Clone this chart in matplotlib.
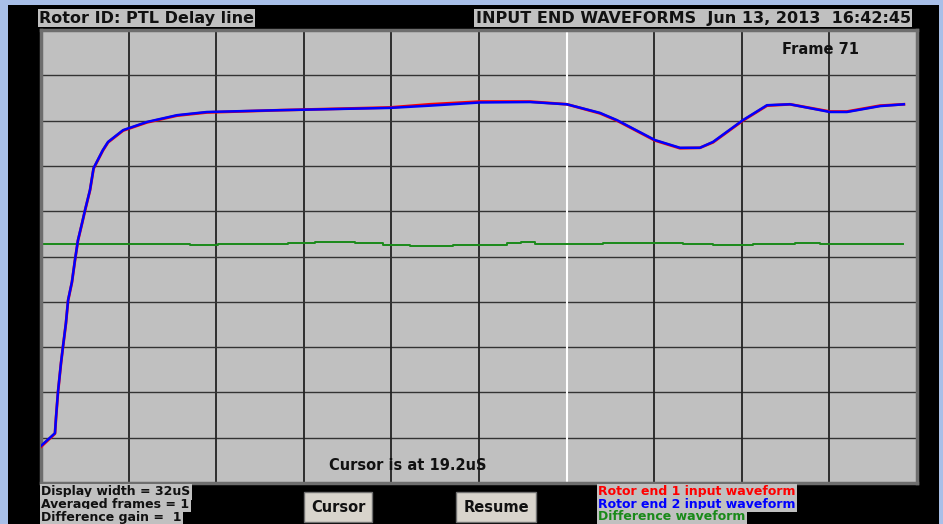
import matplotlib.pyplot as plt

# time in uS (display width 32uS), values in screen divisions (0..10)
t_wave = [0.0, 0.51, 0.55, 0.62, 0.73, 0.80, 0.91, 0.99, 1.13, 1.24, 1.35, 1.50,
          1.61, 1.79, 1.92, 2.26, 2.45, 3.00, 3.87, 4.97, 6.06, 8.73, 12.75,
          14.21, 16.04, 17.86, 19.21, 20.42, 21.04, 22.43, 23.34, 24.07, 24.55,
          25.64, 26.52, 27.36, 28.82, 29.44, 30.65, 31.52]
v_end2 = [0.82, 1.10, 1.46, 2.01, 2.65, 3.00, 3.53, 4.04, 4.44, 4.92, 5.36, 5.74,
          6.03, 6.47, 6.95, 7.35, 7.53, 7.79, 7.97, 8.12, 8.19, 8.23, 8.28,
          8.33, 8.40, 8.41, 8.36, 8.17, 8.01, 7.57, 7.40, 7.40, 7.53,
          8.01, 8.34, 8.36, 8.19, 8.19, 8.32, 8.36]
v_end1 = [0.80, 1.09, 1.45, 2.00, 2.64, 2.99, 3.52, 4.03, 4.43, 4.91, 5.35, 5.73,
          6.02, 6.46, 6.94, 7.34, 7.52, 7.78, 7.96, 8.11, 8.18, 8.23, 8.29,
          8.36, 8.42, 8.42, 8.36, 8.16, 8.00, 7.56, 7.39, 7.40, 7.52,
          8.00, 8.33, 8.36, 8.20, 8.20, 8.33, 8.36]

t_diff = [0.0, 5.44, 6.47, 9.02, 10.01, 11.47, 12.49, 13.48, 15.05, 17.02, 17.53,
          18.05, 20.53, 23.45, 24.55, 26.01, 27.54, 28.45, 31.49]
v_diff = [5.28, 5.25, 5.28, 5.30, 5.32, 5.30, 5.26, 5.24, 5.25, 5.29, 5.31,
          5.28, 5.30, 5.28, 5.25, 5.28, 5.30, 5.28, 5.28]

info_lines = ["Display width = 32uS", "Averaged frames = 1", "Difference gain =  1"]
legend_lines = ["Rotor end 1 input waveform", "Rotor end 2 input waveform",
                "Difference waveform"]
legend_colors = ['#ff0000', '#0000ff', '#1a8a1a']

cursor_us = 19.2
display_width = 32

W, H = 943, 524
fig = plt.figure(figsize=(W / 100, H / 100), dpi=100)
fig.patch.set_facecolor('#a8bfe8')


def fx(px):
    return px / W


def fy(py):
    return 1 - py / H


# black instrument panel behind everything
panel = fig.add_axes([fx(8), 0, fx(931), 519 / H])
panel.set_facecolor('black')
panel.set_xticks([])
panel.set_yticks([])
for s in panel.spines.values():
    s.set_visible(False)

ax = fig.add_axes([fx(41), fy(483), fx(876), 453 / H])
ax.set_facecolor('#c0c0c0')
ax.set_xlim(0, display_width)
ax.set_ylim(0, 10)

# graticule
for i in range(1, 10):
    x = i * display_width / 10
    if abs(x - cursor_us) > 0.01:
        ax.axvline(x, color='#222222', linewidth=1.3, zorder=1)
    ax.axhline(i, color='#333333', linewidth=1.0, zorder=1)
ax.axvline(cursor_us, color='white', linewidth=1.5, zorder=1)

ax.step(t_diff, v_diff, where='post', color=legend_colors[2], linewidth=1.4, zorder=2)
ax.plot(t_wave, v_end1, color=legend_colors[0], linewidth=2.0, zorder=3)
ax.plot(t_wave, v_end2, color=legend_colors[1], linewidth=1.8, zorder=4)

ax.set_xticks([])
ax.set_yticks([])
for s in ax.spines.values():
    s.set_color('#6e6e6e')
    s.set_linewidth(2.5)

big = dict(fontsize=11.5, fontweight='bold', family='DejaVu Sans', va='center')
mid = dict(fontsize=10.5, fontweight='bold', family='DejaVu Sans', va='center')
small = dict(fontsize=9, fontweight='bold', family='DejaVu Sans', va='center')
box = dict(facecolor='#c0c0c0', edgecolor='none', pad=1.0)

ax.text((821 - 41) / 876, (483 - 50) / 453, "Frame 71", transform=ax.transAxes,
        ha='center', color='#111111', **mid)
ax.text((408 - 41) / 876, (483 - 465) / 453, "Cursor is at 19.2uS",
        transform=ax.transAxes, ha='center', color='#111111', **mid)

fig.text(fx(39), fy(18), "Rotor ID: PTL Delay line", color='#111111', bbox=box, **big)
fig.text(fx(911), fy(18), "INPUT END WAVEFORMS  Jun 13, 2013  16:42:45",
         ha='right', color='#111111', bbox=box, **big)

rows = [492, 504.5, 517]
for line, y in zip(info_lines, rows):
    fig.text(fx(41), fy(y), line, color='#111111', bbox=box, **small)
for line, c, y in zip(legend_lines, legend_colors, rows):
    fig.text(fx(598), fy(y), line, color=c, bbox=box, **small)

btn = dict(facecolor='#d8d4cc', edgecolor='#707070', boxstyle='square,pad=0.5')
fig.text(fx(338), fy(507), "Cursor", ha='center', color='#111111', bbox=btn, **mid)
fig.text(fx(496), fy(507), "Resume", ha='center', color='#111111', bbox=btn, **mid)

fig.savefig('out.png', dpi=100, facecolor=fig.get_facecolor())
